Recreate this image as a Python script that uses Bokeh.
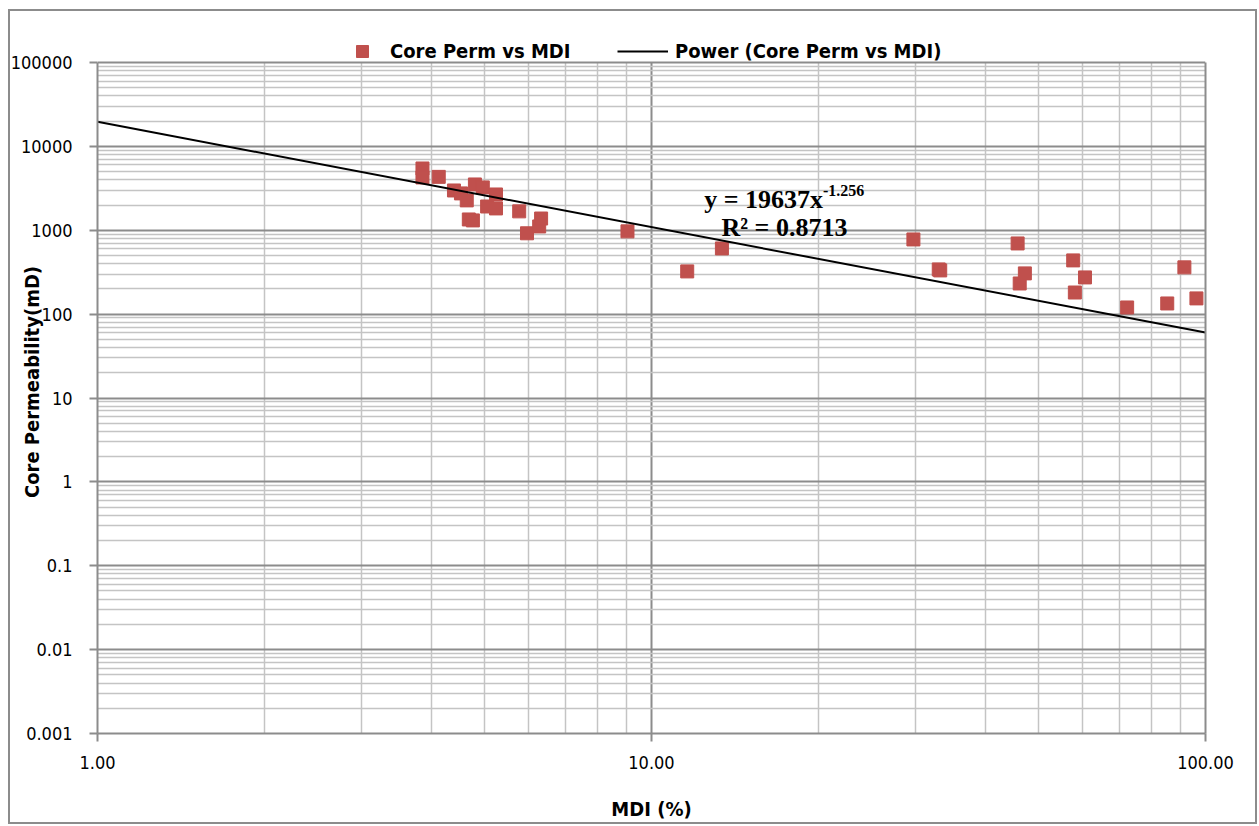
from bokeh.plotting import figure
from bokeh.models import (ColumnDataSource, FixedTicker, Legend, LegendItem, Label, LogAxis)
from bokeh.embed import file_html
from bokeh.resources import INLINE

# ---- data ----
mdi = [3.86, 3.86, 4.13, 4.40, 4.53, 4.64, 4.68, 4.76, 4.80, 4.96, 5.05, 5.24, 5.24,
       5.77, 5.96, 6.27, 6.32, 9.05, 11.6, 13.4, 29.7, 33.0, 33.2, 45.8, 46.2, 47.2,
       57.7, 58.1, 60.6, 72.2, 85.3, 91.6, 96.3]
perm = [5450, 4260, 4330, 2980, 2750, 2270, 1345, 1310, 3515, 3240, 1920, 2670, 1820,
        1680, 920, 1110, 1380, 970, 323, 607, 777, 341, 332, 696, 232, 306,
        437, 181, 274, 120, 134, 361, 154]

trend_x = [1.0, 100.0]
trend_y = [19637.0, 60.4]

x_ticks = [1, 10, 100]
x_tick_labels = ["1.00", "10.00", "100.00"]
y_ticks = [0.001, 0.01, 0.1, 1, 10, 100, 1000, 10000, 100000]
y_tick_labels = ["0.001", "0.01", "0.1", "1", "10", "100", "1000", "10000", "100000"]

series_name = "Core Perm vs MDI"
trend_name = "Power (Core Perm vs MDI)"
eq_main = "y = 19637x"
eq_exp = "-1.256"
eq_r2 = "R\u00b2 = 0.8713"

COND = "DejaVu Sans Condensed"
GRID_MAJ = "#8c8c8c"
GRID_MIN = "#c4c4c4"

# layout (pixels)
PX_PER_DEC = 671 / 8.0
HEADROOM = 32                      # space above the 1e5 line kept inside the frame for the legend
Y_TOP = 10 ** (5 + HEADROOM / PX_PER_DEC)
X_LO, X_HI = 1, 100
Y_LO, Y_HI = 0.001, 100000

W, H = 1249, 815
p = figure(width=W, height=H, x_axis_type="log", y_axis_type="log",
           x_range=(X_LO, X_HI), y_range=(Y_LO, Y_TOP),
           output_backend="svg", toolbar_location=None,
           min_border_left=87, min_border_right=54, min_border_top=19, min_border_bottom=93)
p.styles = {"border": "2px solid #8c8c8c", "box-sizing": "border-box",
            "margin-left": "8px", "margin-top": "9px"}

p.outline_line_color = None
p.background_fill_color = "white"
p.border_fill_color = "white"

xminor = [k * 10 ** d for d in range(0, 2) for k in range(2, 10)]
yminor = [k * 10.0 ** d for d in range(-3, 5) for k in range(2, 10)]
p.xaxis.ticker = FixedTicker(ticks=x_ticks, minor_ticks=xminor)
p.yaxis.ticker = FixedTicker(ticks=y_ticks, minor_ticks=yminor)
p.xaxis.major_label_overrides = {t: l for t, l in zip(x_ticks, x_tick_labels)}
p.yaxis.major_label_overrides = {t: l for t, l in zip(y_ticks, y_tick_labels)}
p.yaxis.bounds = (Y_LO, Y_HI)

for ax in (p.xaxis, p.yaxis):
    ax.axis_line_color = GRID_MAJ
    ax.axis_line_width = 2
    ax.major_tick_line_color = GRID_MAJ
    ax.major_tick_line_width = 2
    ax.major_tick_out = 8
    ax.major_tick_in = 0
    ax.minor_tick_line_color = None
    ax.major_label_text_font = COND
    ax.major_label_text_font_size = "18px"
    ax.major_label_text_color = "black"
    ax.axis_label_text_font = COND
    ax.axis_label_text_font_style = "bold"
    ax.axis_label_text_color = "black"

p.xaxis.major_label_standoff = 14
p.yaxis.major_label_standoff = 17
p.xaxis.axis_label = "MDI (%)"
p.xaxis.axis_label_text_font_size = "20px"
p.xaxis.axis_label_standoff = 25
p.yaxis.axis_label = "Core Permeability(mD)"
p.yaxis.axis_label_text_font_size = "20px"
p.yaxis.axis_label_standoff = -36

# right edge of the plot area
rax = LogAxis(bounds=(Y_LO, Y_HI), ticker=FixedTicker(ticks=[]), axis_line_color=GRID_MAJ,
              axis_line_width=2, major_tick_line_color=None, minor_tick_line_color=None,
              major_label_text_color=None)
p.add_layout(rax, "right")

p.xgrid.cross_bounds = (Y_LO, Y_HI)
p.ygrid.bounds = (Y_LO / 2, Y_TOP)
p.ygrid.cross_bounds = (X_LO, X_HI)
for g in (p.xgrid, p.ygrid):
    g.grid_line_color = GRID_MAJ
    g.grid_line_width = 2
    g.minor_grid_line_color = GRID_MIN
    g.minor_grid_line_width = 1.5

src = ColumnDataSource(dict(mdi=mdi, perm=perm))
r_pts = p.scatter("mdi", "perm", source=src, marker="square", size=13,
                  fill_color="#c0504d", line_color="#c0504d")
r_tr = p.line(trend_x, trend_y, line_color="black", line_width=2)

FRAME_H = 733 - 62 + HEADROOM
LEG_Y = FRAME_H - (HEADROOM + 4)
common = dict(orientation="horizontal", glyph_height=30, padding=0, margin=0,
              border_line_color=None, background_fill_alpha=0,
              label_text_font=COND, label_text_font_style="bold",
              label_text_font_size="20px", label_text_color="black")
leg1 = Legend(items=[LegendItem(label=series_name, renderers=[r_pts])],
              location=(250, LEG_Y), glyph_width=30, label_standoff=13, **common)
leg2 = Legend(items=[LegendItem(label=trend_name, renderers=[r_tr])],
              location=(520, LEG_Y), glyph_width=51, label_standoff=7, **common)
p.add_layout(leg1)
p.add_layout(leg2)

SERIF = "Liberation Serif"
p.add_layout(Label(x=20.4, y=2328, text=eq_main, text_align="right", text_baseline="alphabetic",
                   text_font=SERIF, text_font_style="bold", text_font_size="26px", text_color="black"))
p.add_layout(Label(x=20.4, y=2980, text=eq_exp, text_align="left", text_baseline="alphabetic",
                   text_font=SERIF, text_font_style="bold", text_font_size="16px", text_color="black"))
p.add_layout(Label(x=17.38, y=1079, text=eq_r2, text_align="center", text_baseline="alphabetic",
                   text_font=SERIF, text_font_style="bold", text_font_size="26px", text_color="black"))

open("out.html", "w").write(file_html(p, INLINE))
